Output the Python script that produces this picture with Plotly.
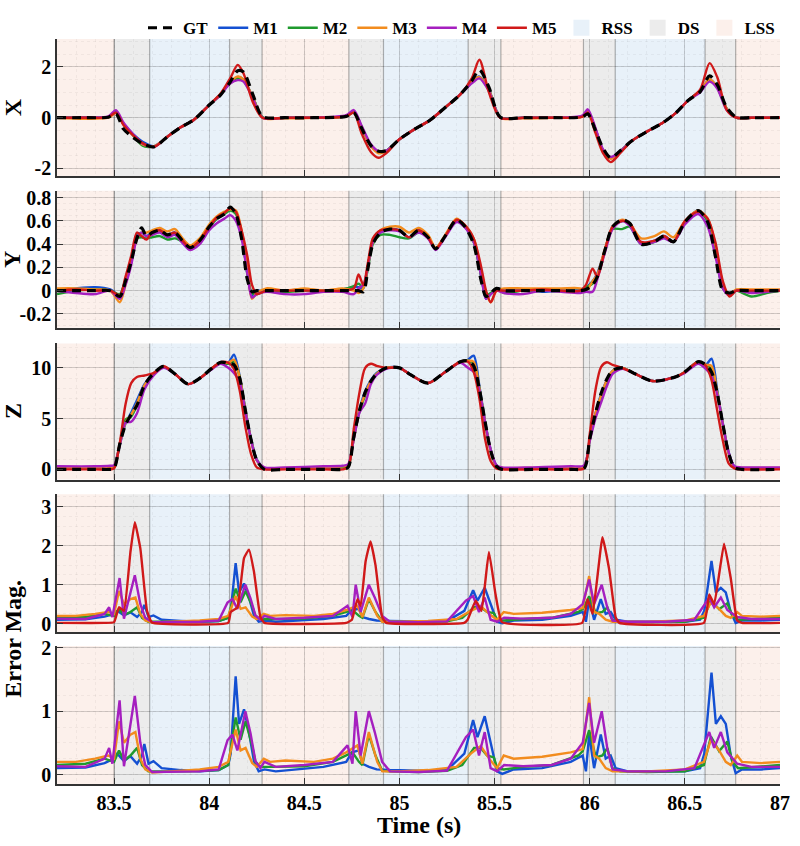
import plotly.graph_objects as go

# ---------------- data ----------------
series_names = ["M1", "M2", "M3", "M4", "M5"]
series_colors = ["#1450d2", "#1f9a2e", "#f28c1e", "#a51fbf", "#d01919"]

phase_names = ["LSS", "DS", "RSS", "DS", "LSS", "DS", "RSS", "DS", "LSS", "DS", "RSS", "DS", "LSS"]
phase_edges = [83.2, 83.5, 83.687, 84.107, 84.278, 84.734, 84.916, 85.361, 85.533,
               85.967, 86.134, 86.606, 86.767, 87.0]
phase_colors = {"RSS": "#e8f1f9", "DS": "#ececec", "LSS": "#fcf0eb"}

x_tickvals = [83.5, 84, 84.5, 85, 85.5, 86, 86.5, 87]
x_ticktext = ["83.5", "84", "84.5", "85", "85.5", "86", "86.5", "87"]

# ---- X panel ----
tx = [83.20, 83.35, 83.47, 83.51, 83.55, 83.60, 83.65, 83.71, 83.78, 83.85, 83.92, 84.00, 84.06, 84.11,
      84.15, 84.18, 84.23, 84.28, 84.40, 84.55, 84.72, 84.76, 84.80, 84.85, 84.89, 84.93, 85.00, 85.08,
      85.16, 85.24, 85.32, 85.38, 85.42, 85.47, 85.53, 85.65, 85.80, 85.96, 85.99, 86.03, 86.07, 86.11,
      86.16, 86.22, 86.30, 86.38, 86.45, 86.52, 86.58, 86.63, 86.67, 86.72, 86.77, 86.85, 87.00]
x_gt = [0, 0, 0.02, 0.15, -0.45, -0.78, -1.02, -1.15, -0.75, -0.38, -0.08, 0.5, 0.9, 1.4, 1.85,
        1.8, 0.9, 0.05, 0, 0, 0.05, 0.2, -0.4, -1.1, -1.32, -1.3, -0.85, -0.45, -0.1, 0.4,
        0.92, 1.45, 1.88, 1.2, 0.02, 0, 0, 0.03, 0.15, -0.5, -1.2, -1.58, -1.3, -0.92, -0.55,
        -0.22, 0.17, 0.7, 1.02, 1.65, 1.3, 0.4, 0.02, 0, 0]
x_m1 = [0, 0, 0.03, 0.22, -0.25, -0.65, -0.95, -1.12, -0.75, -0.38, -0.08, 0.5, 0.92, 1.4, 1.6,
        1.5, 0.8, 0.02, 0, 0, 0.05, 0.25, -0.35, -1.1, -1.35, -1.32, -0.85, -0.45, -0.1, 0.4,
        0.92, 1.4, 1.62, 1.1, 0.02, 0, 0, 0.05, 0.25, -0.45, -1.3, -1.6, -1.33, -0.92, -0.55,
        -0.22, 0.17, 0.7, 1.05, 1.5, 1.2, 0.35, 0.0, 0, 0]
x_m2 = [0, 0.01, 0.02, 0.2, -0.25, -0.7, -1.1, -1.14, -0.75, -0.38, -0.08, 0.5, 0.92, 1.4, 1.55,
        1.45, 0.8, 0.02, 0, 0, 0.05, 0.22, -0.35, -1.1, -1.35, -1.3, -0.85, -0.45, -0.1, 0.4,
        0.92, 1.4, 1.58, 1.1, 0.02, 0, 0, 0.04, 0.22, -0.45, -1.3, -1.58, -1.33, -0.92, -0.55,
        -0.22, 0.17, 0.7, 1.05, 1.48, 1.2, 0.35, 0.0, 0, 0]
x_m3 = [0, -0.04, 0.0, 0.18, -0.25, -0.68, -1.05, -1.12, -0.75, -0.38, -0.08, 0.5, 0.92, 1.4, 1.62,
        1.5, 0.8, 0.0, -0.02, 0, 0.05, 0.22, -0.35, -1.12, -1.4, -1.32, -0.85, -0.45, -0.1, 0.4,
        0.92, 1.42, 1.6, 1.1, 0.0, -0.02, 0, 0.04, 0.25, -0.45, -1.32, -1.62, -1.33, -0.92, -0.55,
        -0.22, 0.17, 0.7, 1.05, 1.52, 1.2, 0.35, 0.0, 0, 0]
x_m4 = [0, 0.01, 0.05, 0.3, -0.2, -0.65, -1.02, -1.15, -0.75, -0.38, -0.08, 0.5, 0.9, 1.35, 1.48,
        1.42, 0.75, 0.0, 0, 0, 0.1, 0.3, -0.3, -1.05, -1.32, -1.3, -0.85, -0.45, -0.1, 0.4,
        0.92, 1.35, 1.55, 1.05, 0.0, 0, 0, 0.08, 0.33, -0.4, -1.25, -1.55, -1.33, -0.92, -0.55,
        -0.22, 0.17, 0.7, 1.0, 1.42, 1.15, 0.3, 0.0, 0, 0]
x_m5 = [0, 0, 0.02, 0.2, -0.3, -0.7, -1.0, -1.15, -0.75, -0.38, -0.08, 0.5, 0.95, 1.55, 2.08,
        1.75, 0.6, 0.0, 0, 0, 0.05, 0.2, -0.6, -1.35, -1.58, -1.4, -0.85, -0.45, -0.1, 0.4,
        0.92, 1.55, 2.28, 1.0, 0.0, 0, 0, 0.03, 0.2, -0.6, -1.4, -1.75, -1.4, -0.92, -0.55,
        -0.22, 0.17, 0.7, 1.1, 2.15, 1.6, 0.3, 0.0, 0, 0]

# ---- Y panel ----
ty = [83.20, 83.30, 83.40, 83.48, 83.53, 83.56, 83.59, 83.62, 83.645, 83.67, 83.70, 83.74, 83.78,
      83.82, 83.86, 83.90, 83.95, 84.00, 84.04, 84.08, 84.11, 84.14, 84.17, 84.20, 84.225, 84.25,
      84.30, 84.40, 84.50, 84.60, 84.70, 84.76, 84.785, 84.81, 84.835, 84.86, 84.90, 84.95, 85.00,
      85.05, 85.10, 85.15, 85.19, 85.24, 85.30, 85.34, 85.39, 85.43, 85.455, 85.48, 85.51, 85.55,
      85.65, 85.75, 85.85, 85.95, 85.98, 86.015, 86.04, 86.08, 86.12, 86.17, 86.21, 86.27, 86.34,
      86.39, 86.44, 86.50, 86.57, 86.62, 86.66, 86.70, 86.735, 86.77, 86.85, 86.93, 87.00]
y_gt = [0, 0, 0, 0, -0.05, 0.08, 0.25, 0.45, 0.54, 0.47, 0.5, 0.52, 0.48, 0.5, 0.43,
        0.37, 0.43, 0.55, 0.62, 0.66, 0.72, 0.66, 0.45, 0.1, -0.01, 0, 0, 0, 0, 0,
        0, 0, 0, -0.01, 0.2, 0.4, 0.5, 0.53, 0.52, 0.46, 0.52, 0.46, 0.36, 0.47, 0.61,
        0.56, 0.4, 0.08, -0.05, -0.02, 0.02, 0, 0, 0, 0, 0, 0.01, 0.05, 0.12, 0.35,
        0.55, 0.61, 0.58, 0.4, 0.42, 0.47, 0.42, 0.59, 0.69, 0.59, 0.3, 0.0, -0.02, 0, 0,
        0, 0]
y_m1 = [0, 0.02, 0.03, 0.01, -0.04, 0.1, 0.27, 0.47, 0.5, 0.47, 0.5, 0.52, 0.48, 0.5, 0.43,
        0.37, 0.43, 0.55, 0.62, 0.67, 0.7, 0.67, 0.5, 0.15, -0.04, 0.0, -0.01, 0.0, 0.01, 0,
        0.01, 0.03, 0.03, 0.02, 0.22, 0.42, 0.5, 0.53, 0.52, 0.46, 0.52, 0.46, 0.36, 0.47, 0.61,
        0.56, 0.42, 0.12, -0.07, -0.03, 0.02, 0, 0.01, -0.01, 0, 0.01, 0.03, 0.08, 0.15, 0.35,
        0.55, 0.6, 0.58, 0.41, 0.43, 0.47, 0.42, 0.59, 0.69, 0.6, 0.35, 0.02, -0.03, 0, -0.01,
        0, 0]
y_m2 = [-0.03, 0, 0.01, 0, -0.03, 0.1, 0.27, 0.45, 0.46, 0.45, 0.46, 0.47, 0.44, 0.45, 0.42,
        0.37, 0.42, 0.54, 0.62, 0.66, 0.69, 0.66, 0.5, 0.15, -0.02, -0.03, 0.0, -0.01, 0, 0,
        0.01, 0.04, 0.06, 0.03, 0.2, 0.4, 0.48, 0.48, 0.46, 0.45, 0.5, 0.46, 0.36, 0.47, 0.61,
        0.56, 0.42, 0.12, -0.04, -0.02, 0.02, -0.02, 0, 0, 0, 0.0, 0.03, 0.06, 0.12, 0.35,
        0.53, 0.53, 0.55, 0.4, 0.42, 0.46, 0.42, 0.59, 0.68, 0.6, 0.35, 0.02, -0.02, 0, -0.05,
        -0.02, 0]
y_m3 = [0.02, 0.02, 0.01, 0, -0.1, 0.05, 0.25, 0.45, 0.5, 0.5, 0.52, 0.54, 0.51, 0.53, 0.45,
        0.39, 0.45, 0.57, 0.64, 0.68, 0.7, 0.69, 0.52, 0.2, -0.07, -0.02, 0.02, 0.0, 0.02, 0,
        0.02, 0.0, -0.02, 0.02, 0.22, 0.42, 0.52, 0.55, 0.55, 0.5, 0.54, 0.48, 0.37, 0.48, 0.62,
        0.57, 0.45, 0.15, -0.02, -0.1, 0.0, 0.02, 0.02, 0.02, 0.02, 0.02, 0.0, 0.08, 0.14, 0.36,
        0.55, 0.61, 0.58, 0.45, 0.47, 0.51, 0.46, 0.6, 0.69, 0.62, 0.4, 0.05, -0.03, 0.01, 0.01,
        0.01, 0.01]
y_m4 = [0, -0.02, -0.03, 0, -0.07, 0.05, 0.22, 0.45, 0.5, 0.47, 0.48, 0.5, 0.46, 0.48, 0.41,
        0.35, 0.4, 0.52, 0.58, 0.62, 0.65, 0.6, 0.45, 0.15, -0.06, -0.03, -0.01, -0.03, -0.03, -0.01,
        -0.01, -0.03, 0.02, 0.05, 0.22, 0.42, 0.5, 0.52, 0.51, 0.46, 0.5, 0.45, 0.35, 0.46, 0.59,
        0.55, 0.42, 0.12, -0.07, -0.03, 0.0, -0.02, -0.03, 0.0, -0.01, -0.02, -0.01, -0.01, 0.1, 0.33,
        0.53, 0.6, 0.56, 0.4, 0.42, 0.45, 0.42, 0.57, 0.66, 0.55, 0.3, 0.02, -0.04, 0, -0.02,
        -0.01, 0]
y_m5 = [0, 0.01, 0, 0, -0.04, 0.12, 0.3, 0.5, 0.47, 0.44, 0.5, 0.52, 0.48, 0.5, 0.43,
        0.37, 0.43, 0.55, 0.63, 0.67, 0.71, 0.68, 0.52, 0.3, 0.05, -0.03, 0, 0, 0, 0,
        0, 0.02, 0.14, 0.05, 0.25, 0.45, 0.52, 0.53, 0.52, 0.46, 0.52, 0.46, 0.36, 0.47, 0.61,
        0.57, 0.45, 0.2, 0.0, -0.1, 0.0, 0, 0, 0.01, 0, 0, 0.05, 0.19, 0.12, 0.35,
        0.55, 0.6, 0.58, 0.42, 0.43, 0.47, 0.42, 0.6, 0.68, 0.62, 0.42, 0.08, -0.05, 0, 0,
        0, 0]

# ---- Z panel ----
tz = [83.20, 83.40, 83.48, 83.50, 83.53, 83.56, 83.59, 83.62, 83.66, 83.71, 83.76, 83.82, 83.89,
      83.96, 84.01, 84.06, 84.10, 84.13, 84.16, 84.19, 84.22, 84.25, 84.29, 84.40, 84.60, 84.70,
      84.73, 84.76, 84.79, 84.82, 84.85, 84.88, 84.93, 85.00, 85.06, 85.15, 85.24, 85.32, 85.36,
      85.39, 85.42, 85.45, 85.48, 85.51, 85.54, 85.70, 85.90, 85.97, 86.00, 86.03, 86.06, 86.09,
      86.12, 86.17, 86.24, 86.33, 86.45, 86.50, 86.57, 86.61, 86.64, 86.67, 86.70, 86.73, 86.76,
      86.80, 87.00]
z_gt = [0, 0, 0, 0.1, 2.5, 4.4, 5.4, 6.3, 8.3, 9.5, 10.15, 9.4, 8.4, 9.1, 9.9,
        10.55, 10.45, 10.3, 9.0, 5.8, 2.9, 0.9, 0, 0, 0, 0, 0.2, 3.2, 5.8, 7.6,
        8.7, 9.4, 10.0, 10.0, 9.3, 8.5, 9.6, 10.6, 10.7, 10.2, 7.9, 4.7, 1.8, 0.3, 0,
        0, 0, 0.1, 3.0, 5.5, 7.5, 8.9, 9.75, 10.0, 9.4, 8.7, 9.1, 9.6, 10.6, 10.3,
        9.6, 7.5, 4.4, 1.6, 0.2, 0, 0]
z_m1 = [0.1, 0.15, 0.2, 0.3, 2.4, 4.5, 5.6, 6.8, 8.4, 9.5, 10.1, 9.4, 8.4, 9.1, 9.9,
        10.5, 10.5, 11.3, 9.2, 5.9, 3.0, 1.0, 0.1, 0.1, 0.15, 0.25, 0.4, 3.2, 5.9, 7.7,
        8.8, 9.5, 10.0, 10.0, 9.3, 8.5, 9.6, 10.6, 10.8, 11.2, 8.2, 4.7, 1.9, 0.4, 0.1,
        0.1, 0.2, 0.3, 3.0, 5.5, 7.4, 8.8, 9.7, 10.0, 9.4, 8.7, 9.1, 9.6, 10.6, 10.3,
        10.9, 7.8, 4.5, 1.7, 0.3, 0.1, 0.1]
z_m2 = [0.1, 0.1, 0.15, 0.2, 2.5, 4.9, 5.2, 6.3, 8.2, 9.4, 10.1, 9.4, 8.4, 9.1, 9.9,
        10.5, 10.4, 10.6, 9.1, 5.8, 2.9, 0.9, 0.1, 0.1, 0.1, 0.2, 0.3, 3.1, 5.7, 7.3,
        8.6, 9.4, 10.0, 10.0, 9.3, 8.5, 9.6, 10.6, 10.7, 10.4, 8.0, 4.6, 1.8, 0.3, 0.1,
        0.1, 0.15, 0.2, 2.9, 5.4, 7.0, 8.6, 9.6, 10.0, 9.4, 8.7, 9.1, 9.6, 10.6, 10.3,
        9.9, 7.6, 4.4, 1.6, 0.2, 0.1, 0.1]
z_m3 = [0.15, 0.2, 0.25, 0.3, 2.5, 4.6, 5.4, 6.5, 8.3, 9.5, 10.1, 9.4, 8.4, 9.1, 9.9,
        10.5, 10.5, 10.8, 9.1, 5.8, 2.9, 0.9, 0.15, 0.15, 0.2, 0.3, 0.4, 3.1, 5.8, 7.5,
        8.7, 9.4, 10.0, 10.0, 9.3, 8.5, 9.6, 10.6, 10.7, 10.6, 8.0, 4.6, 1.8, 0.3, 0.15,
        0.15, 0.2, 0.3, 3.0, 5.5, 7.3, 8.8, 9.7, 10.0, 9.4, 8.7, 9.1, 9.6, 10.6, 10.3,
        10.2, 7.6, 4.4, 1.6, 0.2, 0.15, 0.15]
z_m4 = [0.3, 0.3, 0.35, 0.4, 2.4, 4.6, 4.7, 5.5, 7.9, 9.3, 10.0, 9.4, 8.4, 9.1, 9.8,
        10.4, 10.0, 9.5, 8.6, 5.7, 2.9, 0.9, 0.2, 0.2, 0.3, 0.35, 0.5, 3.0, 5.6, 6.5,
        8.4, 9.3, 9.9, 10.0, 9.3, 8.5, 9.6, 10.5, 10.0, 9.6, 7.8, 4.6, 1.9, 0.4, 0.2,
        0.2, 0.3, 0.4, 2.8, 5.0, 6.6, 8.2, 9.4, 9.9, 9.4, 8.7, 9.1, 9.5, 10.4, 9.9,
        9.2, 7.4, 4.4, 1.7, 0.3, 0.2, 0.2]
z_m5 = [0, 0, 0, 0.1, 2.6, 6.4, 8.5, 9.1, 9.25, 9.5, 10.15, 9.4, 8.4, 9.1, 9.9,
        10.55, 10.5, 9.9, 7.8, 4.2, 1.5, 0.2, 0, 0, 0, 0, 0.2, 4.0, 7.6, 10.0,
        10.4, 10.2, 10.0, 10.0, 9.3, 8.5, 9.6, 10.6, 10.6, 9.6, 7.0, 3.0, 0.8, 0.1, 0,
        0, 0, 0.1, 3.5, 7.8, 10.1, 10.55, 10.3, 10.0, 9.4, 8.7, 9.1, 9.6, 10.6, 10.2,
        8.8, 5.8, 2.8, 0.6, 0.1, 0, 0]

# ---- Error magnitude ----
e1_t = [83.20, 83.35, 83.45, 83.50, 83.517, 83.552, 83.586, 83.621, 83.647, 83.659, 83.672, 83.681,
        83.707, 83.75, 83.85, 83.95, 84.05, 84.10, 84.113, 84.139, 84.157, 84.183, 84.209, 84.235,
        84.26, 84.29, 84.35, 84.45, 84.60, 84.72, 84.75, 84.787, 84.805, 84.84, 84.88, 84.95, 85.10,
        85.25, 85.341, 85.387, 85.41, 85.448, 85.479, 85.513, 85.54, 85.60, 85.75, 85.90, 85.963,
        85.98, 85.997, 86.023, 86.058, 86.084, 86.11, 86.136, 86.20, 86.35, 86.50, 86.58, 86.602,
        86.64, 86.663, 86.689, 86.715, 86.741, 86.767, 86.80, 86.90, 87.00]
e1_v = [0.10, 0.11, 0.18, 0.25, 0.33, 0.21, 0.29, 0.17, 0.30, 0.48, 0.30, 0.17, 0.21, 0.10, 0.07,
        0.05, 0.07, 0.15, 0.33, 1.55, 0.80, 1.03, 0.67, 0.21, 0.05, 0.08, 0.05, 0.08, 0.12, 0.20,
        0.35, 0.38, 0.17, 0.12, 0.08, 0.07, 0.06, 0.07, 0.33, 0.86, 0.59, 0.92, 0.50, 0.05, 0.01,
        0.08, 0.10, 0.20, 0.30, 0.05, 0.63, 0.10, 0.63, 0.25, 0.30, 0.10, 0.05, 0.05, 0.05, 0.10,
        0.33, 1.61, 0.80, 0.92, 0.80, 0.30, 0.02, 0.08, 0.08, 0.10]
e2_t = [83.20, 83.35, 83.45, 83.50, 83.526, 83.552, 83.586, 83.621, 83.647, 83.68, 83.75, 83.90,
        84.05, 84.10, 84.139, 84.165, 84.191, 84.226, 84.243, 84.27, 84.35, 84.50, 84.65, 84.72,
        84.753, 84.787, 84.805, 84.839, 84.874, 84.909, 84.95, 85.10, 85.25, 85.33, 85.392, 85.427,
        85.46, 85.496, 85.513, 85.548, 85.65, 85.80, 85.94, 85.963, 85.997, 86.032, 86.067, 86.093,
        86.118, 86.16, 86.30, 86.50, 86.60, 86.637, 86.68, 86.723, 86.75, 86.78, 86.90, 87.00]
e2_v = [0.15, 0.17, 0.25, 0.20, 0.38, 0.22, 0.30, 0.42, 0.15, 0.05, 0.05, 0.05, 0.07, 0.15, 0.90,
        0.55, 0.84, 0.45, 0.20, 0.12, 0.12, 0.13, 0.20, 0.30, 0.35, 0.20, 0.15, 0.63, 0.30, 0.06,
        0.05, 0.04, 0.06, 0.15, 0.42, 0.42, 0.30, 0.27, 0.10, 0.08, 0.12, 0.15, 0.30, 0.37, 0.70,
        0.27, 0.30, 0.42, 0.10, 0.05, 0.04, 0.05, 0.15, 0.60, 0.37, 0.52, 0.20, 0.10, 0.13, 0.15]
e3_t = [83.20, 83.30, 83.40, 83.47, 83.50, 83.526, 83.552, 83.586, 83.612, 83.638, 83.664, 83.70,
        83.80, 83.95, 84.05, 84.10, 84.139, 84.165, 84.191, 84.226, 84.25, 84.287, 84.32, 84.40,
        84.55, 84.65, 84.72, 84.779, 84.805, 84.839, 84.883, 84.91, 85.00, 85.15, 85.30, 85.375,
        85.427, 85.479, 85.513, 85.548, 85.60, 85.75, 85.90, 85.963, 85.997, 86.023, 86.05, 86.084,
        86.12, 86.30, 86.50, 86.60, 86.637, 86.68, 86.715, 86.741, 86.775, 86.80, 86.90, 87.00]
e3_v = [0.20, 0.20, 0.25, 0.30, 0.25, 0.84, 0.50, 0.63, 0.67, 0.25, 0.08, 0.03, 0.05, 0.08, 0.12,
        0.20, 0.71, 0.38, 0.42, 0.18, 0.12, 0.25, 0.20, 0.22, 0.20, 0.25, 0.35, 0.46, 0.17, 0.67,
        0.20, 0.05, 0.05, 0.07, 0.12, 0.33, 0.45, 0.22, 0.10, 0.30, 0.25, 0.28, 0.35, 0.40, 1.22,
        0.30, 0.25, 0.10, 0.05, 0.05, 0.08, 0.20, 0.55, 0.38, 0.20, 0.15, 0.30, 0.20, 0.18, 0.20]
e4_t = [83.20, 83.35, 83.45, 83.474, 83.491, 83.529, 83.552, 83.586, 83.609, 83.638, 83.664, 83.70,
        83.80, 83.95, 84.05, 84.096, 84.122, 84.148, 84.19, 84.217, 84.243, 84.269, 84.29, 84.35,
        84.50, 84.65, 84.727, 84.753, 84.77, 84.796, 84.839, 84.87, 84.909, 84.95, 85.10, 85.25,
        85.349, 85.387, 85.418, 85.448, 85.479, 85.513, 85.55, 85.65, 85.80, 85.90, 85.963, 85.997,
        86.023, 86.063, 86.093, 86.12, 86.20, 86.40, 86.55, 86.602, 86.628, 86.654, 86.689, 86.723,
        86.775, 86.85, 87.00]
e4_v = [0.13, 0.12, 0.25, 0.42, 0.17, 1.17, 0.13, 0.75, 1.24, 0.50, 0.15, 0.04, 0.04, 0.05, 0.08,
        0.54, 0.63, 0.38, 1.00, 0.65, 0.21, 0.10, 0.20, 0.12, 0.15, 0.20, 0.46, 0.17, 1.00, 0.30,
        1.00, 0.67, 0.20, 0.05, 0.04, 0.06, 0.59, 0.71, 0.30, 0.67, 0.10, 0.05, 0.15, 0.13, 0.15,
        0.25, 0.50, 1.13, 0.50, 1.00, 0.40, 0.08, 0.05, 0.05, 0.10, 0.50, 0.67, 0.42, 0.67, 0.35,
        0.17, 0.12, 0.12]
e5_t = [83.20, 83.45, 83.50, 83.526, 83.552, 83.586, 83.609, 83.638, 83.673, 83.699, 84.10, 84.113,
        84.148, 84.183, 84.209, 84.235, 84.269, 84.29, 84.72, 84.75, 84.779, 84.796, 84.822, 84.848,
        84.874, 84.909, 84.93, 85.34, 85.358, 85.401, 85.431, 85.47, 85.505, 85.539, 85.96, 85.989,
        86.015, 86.067, 86.101, 86.136, 86.155, 86.60, 86.628, 86.654, 86.706, 86.741, 86.775, 86.80,
        87.00]
e5_v = [0.02, 0.02, 0.04, 0.42, 0.33, 1.84, 2.60, 1.93, 0.33, 0.03, 0.02, 0.30, 0.42, 1.68, 1.90,
        1.34, 0.17, 0.02, 0.02, 0.10, 0.63, 0.46, 1.60, 2.11, 1.50, 0.17, 0.02, 0.02, 0.10, 0.59,
        0.33, 1.84, 0.75, 0.04, 0.02, 0.63, 0.25, 2.22, 1.42, 0.17, 0.02, 0.02, 0.75, 0.50, 2.05,
        1.17, 0.08, 0.02, 0.02]

for a, b in [(tx, x_gt), (tx, x_m1), (tx, x_m2), (tx, x_m3), (tx, x_m4), (tx, x_m5),
             (ty, y_gt), (ty, y_m1), (ty, y_m2), (ty, y_m3), (ty, y_m4), (ty, y_m5),
             (tz, z_gt), (tz, z_m1), (tz, z_m2), (tz, z_m3), (tz, z_m4), (tz, z_m5),
             (e1_t, e1_v), (e2_t, e2_v), (e3_t, e3_v), (e4_t, e4_v), (e5_t, e5_v)]:
    assert len(a) == len(b), (len(a), len(b), b[:3])

# ---------------- figure ----------------
FONT = "Liberation Serif"
LW = 2.4
fig = go.Figure()

panels = [
    dict(t=tx, gt=x_gt, ms=[x_m1, x_m2, x_m3, x_m4, x_m5]),
    dict(t=ty, gt=y_gt, ms=[y_m1, y_m2, y_m3, y_m4, y_m5]),
    dict(t=tz, gt=z_gt, ms=[z_m1, z_m2, z_m3, z_m4, z_m5]),
]
for i, p in enumerate(panels, start=1):
    xa, ya = ("x" if i == 1 else f"x{i}"), ("y" if i == 1 else f"y{i}")
    for k, (name, col) in enumerate(zip(series_names, series_colors)):
        fig.add_trace(go.Scatter(x=p["t"], y=p["ms"][k], mode="lines", name=name,
                                 line=dict(color=col, width=LW, shape="spline", smoothing=0.8),
                                 xaxis=xa, yaxis=ya, showlegend=(i == 1), legendrank=k + 2))
    fig.add_trace(go.Scatter(x=p["t"], y=p["gt"], mode="lines", name="GT",
                             line=dict(color="black", width=3.2, dash="9px,6px", shape="spline", smoothing=0.8),
                             xaxis=xa, yaxis=ya, showlegend=(i == 1), legendrank=1))

err_t = [e1_t, e2_t, e3_t, e4_t, e5_t]
err_v = [e1_v, e2_v, e3_v, e4_v, e5_v]
for i in (4, 5):
    n = 5 if i == 4 else 4
    for k in range(n):
        shape = dict(shape="spline", smoothing=0.35) if k == 4 else dict(shape="linear")
        fig.add_trace(go.Scatter(x=err_t[k], y=err_v[k], mode="lines", name=series_names[k],
                                 line=dict(color=series_colors[k], width=LW, **shape),
                                 xaxis=f"x{i}", yaxis=f"y{i}", showlegend=False))

for r, ph in enumerate(["RSS", "DS", "LSS"]):
    fig.add_trace(go.Scatter(x=[None], y=[None], mode="markers", name=ph,
                             marker=dict(symbol="square", size=20, color=phase_colors[ph],
                                         line=dict(width=0)),
                             xaxis="x", yaxis="y", showlegend=True, legendrank=10 + r))

# layout
domains = [[0.816, 1.0], [0.6123, 0.7963], [0.4087, 0.5913], [0.2037, 0.389], [0.0, 0.1853]]
yconf = [
    dict(range=[-2.3, 3.1], tickvals=[-2, 0, 2], ticktext=["-2", "0", "2"], minor=0.5, title="X"),
    dict(range=[-0.32, 0.86], tickvals=[-0.2, 0, 0.2, 0.4, 0.6, 0.8],
         ticktext=["-0.2", "0", "0.2", "0.4", "0.6", "0.8"], minor=0.05, title="Y"),
    dict(range=[-1, 12.4], tickvals=[0, 5, 10], ticktext=["0", "5", "10"], minor=1, title="Z"),
    dict(range=[-0.22, 3.32], tickvals=[0, 1, 2, 3], ticktext=["0", "1", "2", "3"], minor=0.25, title=None),
    dict(range=[-0.15, 2.03], tickvals=[0, 1, 2], ticktext=["0", "1", "2"], minor=0.25, title=None),
]
tickfont = dict(family=FONT, size=20, color="black", weight="bold")
layout = dict(
    width=800, height=846,
    margin=dict(l=57, r=10, t=23, b=62),
    paper_bgcolor="white", plot_bgcolor="white",
    showlegend=True,
    legend=dict(orientation="h", x=1.0, xanchor="right", y=1.0145, yanchor="middle",
                font=dict(family=FONT, size=17, color="black", weight="bold"),
                bgcolor="rgba(0,0,0,0)", itemwidth=30, tracegroupgap=0, traceorder="normal"),
    shapes=[], annotations=[],
)
for i in range(1, 6):
    xk = "xaxis" if i == 1 else f"xaxis{i}"
    yk = "yaxis" if i == 1 else f"yaxis{i}"
    yid = "y" if i == 1 else f"y{i}"
    xid = "x" if i == 1 else f"x{i}"
    c = yconf[i - 1]
    layout[xk] = dict(domain=[0, 1], anchor=yid, range=[83.2, 87], tickvals=x_tickvals,
                      ticktext=x_ticktext, showticklabels=(i == 5), ticks="inside", ticklen=6,
                      tickwidth=1.3, tickcolor="#333", showline=True, linecolor="#333", linewidth=1.5,
                      showgrid=True, gridcolor="rgba(0,0,0,0.17)", gridwidth=1, zeroline=False,
                      tickfont=tickfont,
                      minor=dict(dtick=0.1, tick0=83.2, showgrid=True, gridcolor="rgba(0,0,0,0.045)",
                                 griddash="dot", ticklen=0))
    if i > 1:
        layout[xk]["matches"] = "x"
    layout[yk] = dict(domain=domains[i - 1], anchor=xid, range=c["range"], tickvals=c["tickvals"],
                      ticktext=c["ticktext"], ticks="inside", ticklen=6, tickwidth=1.3, tickcolor="#333",
                      showline=True, linecolor="#333", linewidth=1.5, showgrid=True,
                      gridcolor="rgba(0,0,0,0.17)", gridwidth=1, zeroline=False, tickfont=tickfont,
                      minor=dict(dtick=c["minor"], showgrid=True, gridcolor="rgba(0,0,0,0.045)",
                                 griddash="dot", ticklen=0))
    yref_dom = f"{yid} domain"
    for j, ph in enumerate(phase_names):
        layout["shapes"].append(dict(type="rect", xref=xid, yref=yref_dom, x0=phase_edges[j],
                                     x1=phase_edges[j + 1], y0=0, y1=1, fillcolor=phase_colors[ph],
                                     line=dict(width=0), layer="below"))
    for e in phase_edges[1:-1]:
        layout["shapes"].append(dict(type="line", xref=xid, yref=yref_dom, x0=e, x1=e, y0=0, y1=1,
                                     line=dict(color="rgba(0,0,0,0.3)", width=1.2), layer="below"))
    if c["title"]:
        layout["annotations"].append(dict(text=c["title"], xref="paper", yref="paper", x=-0.0614,
                                          y=sum(domains[i - 1]) / 2, xanchor="center", yanchor="middle",
                                          textangle=-90, showarrow=False,
                                          font=dict(family=FONT, size=24, color="black", weight="bold")))

layout["annotations"].append(dict(text="Error Mag.", xref="paper", yref="paper", x=-0.0614,
                                  y=(domains[4][0] + domains[3][1]) / 2, xanchor="center",
                                  yanchor="middle", textangle=-90, showarrow=False,
                                  font=dict(family=FONT, size=24, color="black", weight="bold")))
layout["annotations"].append(dict(text="Time (s)", xref="paper", yref="paper", x=0.5, y=-0.0552,
                                  xanchor="center", yanchor="middle", showarrow=False,
                                  font=dict(family=FONT, size=24, color="black", weight="bold")))

fig.update_layout(**layout)
fig.write_html("out.html")
